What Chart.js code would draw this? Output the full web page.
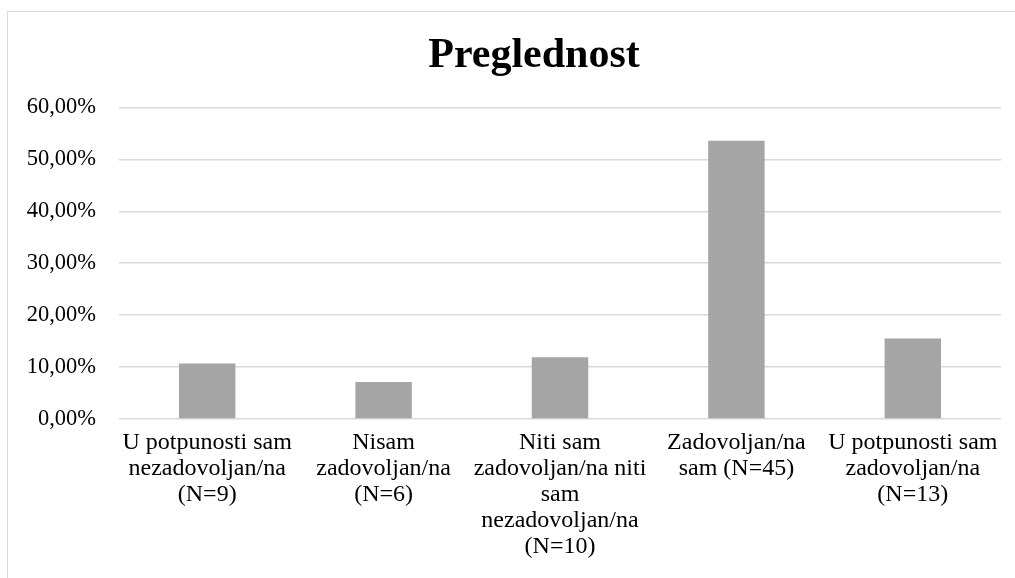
<!DOCTYPE html>
<html>
<head>
<meta charset="utf-8">
<script src="https://cdn.jsdelivr.net/npm/chart.js@4"></script>
<style>
    html, body { margin: 0; padding: 0; background: #fff; }
    #wrap { position: relative; width: 1015px; height: 578px; overflow: hidden; }
    #frame { position: absolute; left: 7px; top: 11px; width: 1100px; height: 700px;
             border-left: 1.5px solid #d9d9d9; border-top: 1.5px solid #d9d9d9; }
    canvas { position: absolute; left: 0; top: 0; }
</style>
</head>
<body>
<div id="wrap">
    <div id="frame"></div>
    <canvas id="chart" width="1015" height="578"></canvas>
</div>
<script>
// Categories (multi-line labels as they wrap in the picture)
const categories = [
    ['U potpunosti sam', 'nezadovoljan/na', '(N=9)'],
    ['Nisam', 'zadovoljan/na', '(N=6)'],
    ['Niti sam', 'zadovoljan/na niti', 'sam', 'nezadovoljan/na', '(N=10)'],
    ['Zadovoljan/na', 'sam (N=45)'],
    ['U potpunosti sam', 'zadovoljan/na', '(N=13)']
];

// Share of answers, percent
const shares = [10.71, 7.14, 11.90, 53.57, 15.48];

const yMax = 60;
const yStep = 10;

const serif = "'Liberation Serif', 'Times New Roman', serif";

// The original chart box is wider than the crop, so its title sits right of centre
const shiftTitle = {
    id: 'shiftTitle',
    afterLayout(chart) {
        const t = chart.titleBlock;
        if (!t) return;
        t.left = 68;
        t.right = 1000;
        t.width = t.right - t.left;
    }
};

const ctx = document.getElementById('chart').getContext('2d');
new Chart(ctx, {
    type: 'bar',
    data: {
        labels: categories,
        datasets: [{
            label: 'Preglednost',
            data: shares,
            backgroundColor: '#a5a5a5',
            borderWidth: 0,
            categoryPercentage: 1,
            barPercentage: 0.32
        }]
    },
    options: {
        responsive: false,
        animation: false,
        events: [],
        layout: {
            padding: { left: 0, right: 14, top: 0, bottom: 0 }
        },
        plugins: {
            legend: { display: false },
            tooltip: { enabled: false },
            title: {
                display: true,
                text: 'Preglednost',
                color: '#000',
                font: { family: serif, size: 42, weight: 'bold', lineHeight: 1.2 },
                padding: { top: 31, bottom: 26 }
            }
        },
        scales: {
            x: {
                grid: { display: false, drawTicks: false },
                border: { display: false },
                ticks: {
                    color: '#000',
                    font: { family: serif, size: 24, lineHeight: 1.083 },
                    padding: 11,
                    maxRotation: 0,
                    autoSkip: false
                },
                afterFit: (scale) => { scale.height = 159; }
            },
            y: {
                min: 0,
                max: yMax,
                grid: { color: '#d9d9d9', lineWidth: 1.5, drawTicks: false },
                border: { display: false },
                ticks: {
                    stepSize: yStep,
                    color: '#000',
                    padding: 23,
                    font: { family: serif, size: 22.5 },
                    callback: (v) => v.toFixed(2).replace('.', ',') + '%'
                },
                afterFit: (scale) => { scale.width = 119; }
            }
        }
    },
    plugins: [shiftTitle]
});
</script>
</body>
</html>
